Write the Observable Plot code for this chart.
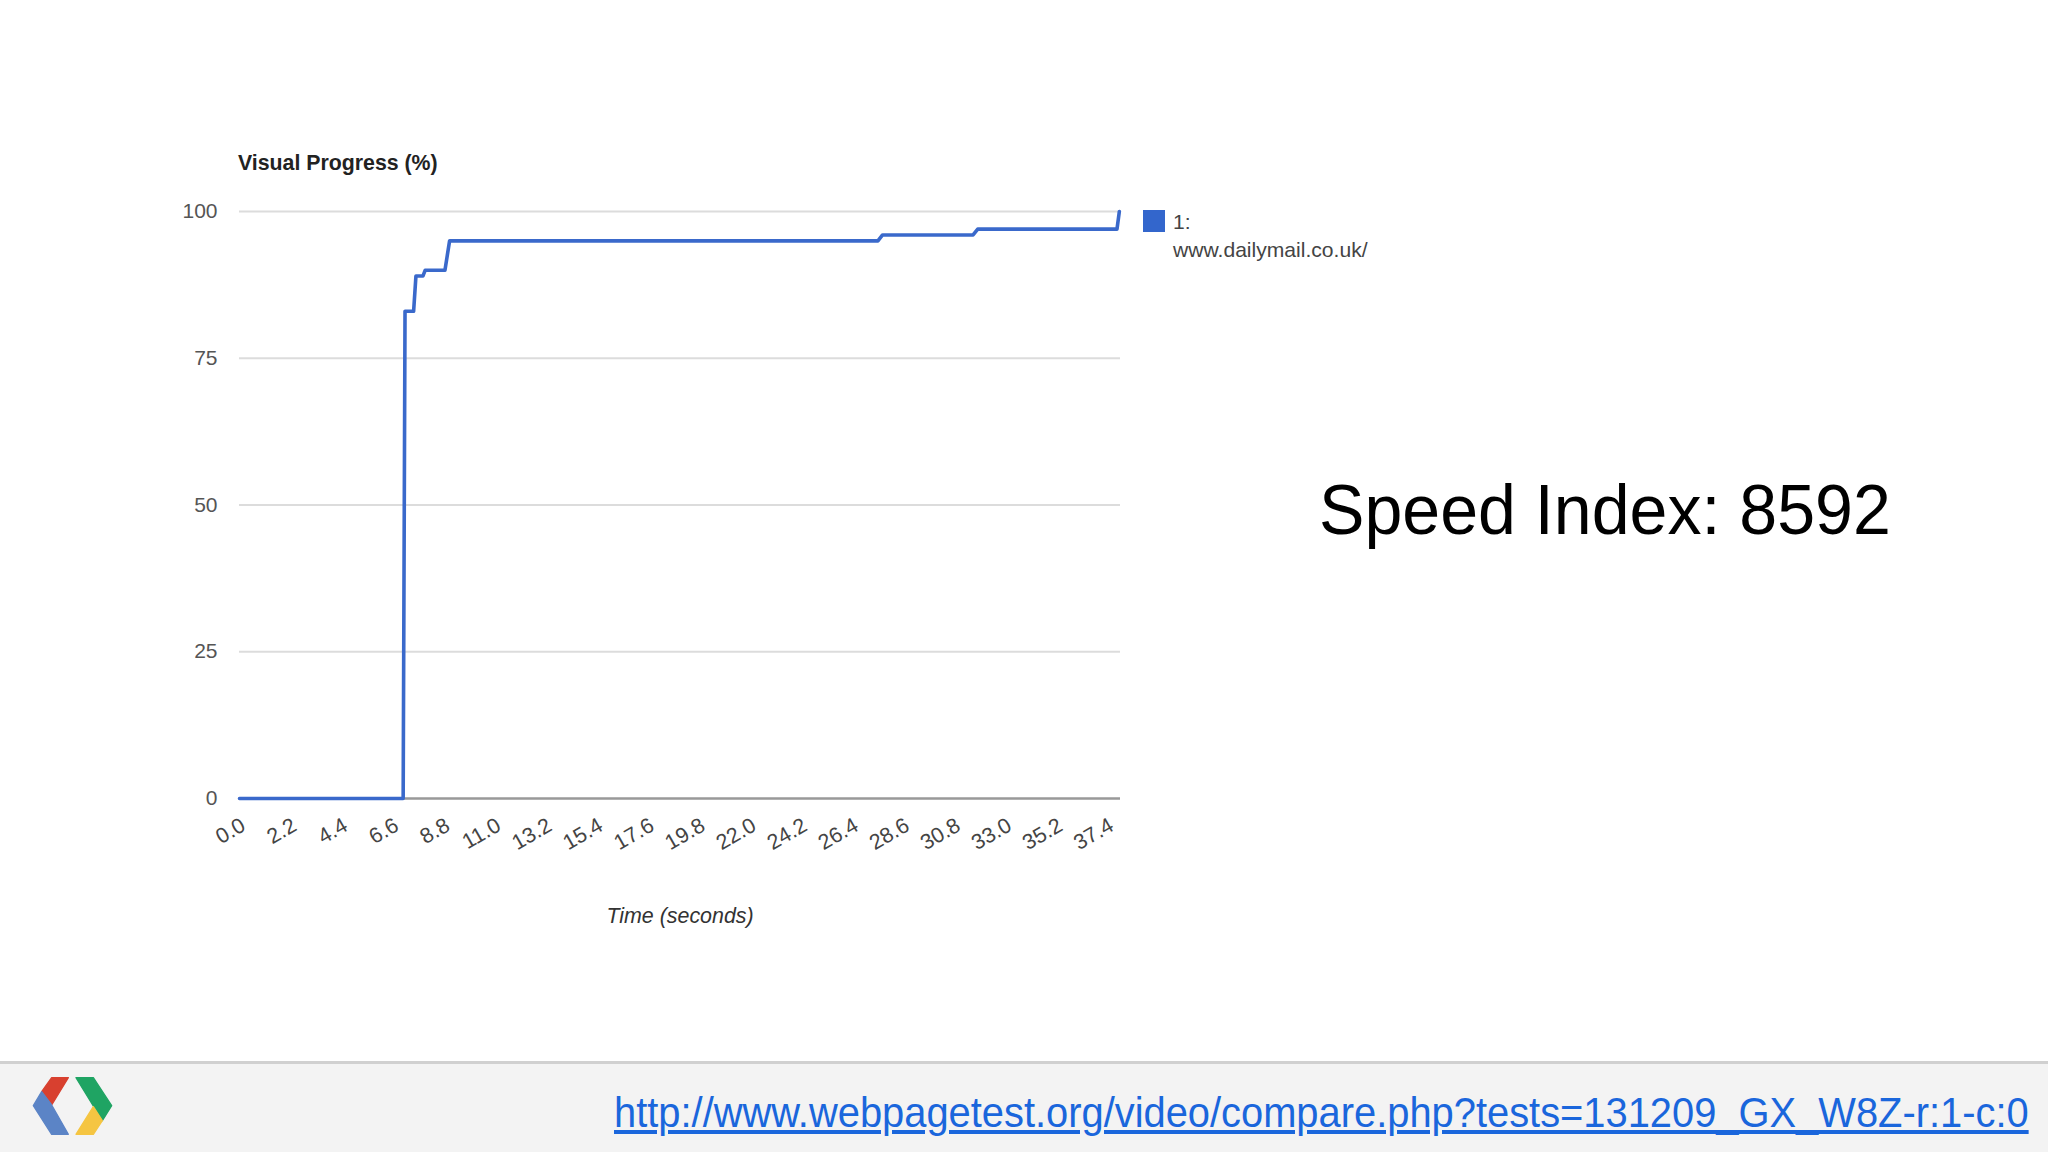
<!DOCTYPE html>
<html>
<head>
<meta charset="utf-8">
<script src="https://cdn.jsdelivr.net/npm/d3@7"></script>
<script src="https://cdn.jsdelivr.net/npm/@observablehq/plot@0.6"></script>
<style>
html,body{margin:0;padding:0;background:#fff;width:2048px;height:1152px;overflow:hidden;font-family:"Liberation Sans",Arial,sans-serif}
#chart{position:absolute;left:0;top:0}
.abs{position:absolute;white-space:nowrap}
#ytitle{left:238px;top:150px;font-size:21.3px;font-weight:bold;color:#222;line-height:26px}
#swatch{left:1143px;top:210px;width:22px;height:22px;background:#3366cc}
#legend{left:1173px;top:208px;font-size:21.1px;line-height:28px;color:#444}
#speed{left:1319px;top:465px;font-size:70px;line-height:90px;color:#000;transform:scaleX(.973);transform-origin:left center}
#footer{left:0;top:1061px;width:2048px;height:91px;background:#f3f3f3;border-top:3px solid #d0d0d0;box-sizing:border-box}
#link{left:614px;top:1087px;font-size:42px;line-height:52px;color:#1a66dc;text-decoration:underline;transform:scaleX(.949);transform-origin:left center}
#logo{left:0;top:1040px}
</style>
</head>
<body>
<div id="chart"></div>
<div class="abs" id="ytitle">Visual Progress (%)</div>
<div class="abs" id="swatch"></div>
<div class="abs" id="legend">1:<br>www.dailymail.co.uk/</div>
<div class="abs" id="speed">Speed Index: 8592</div>
<div class="abs" id="footer"></div>
<div class="abs" id="link">http://www.webpagetest.org/video/compare.php?tests=131209_GX_W8Z-r:1-c:0</div>
<svg class="abs" id="logo" width="200" height="112" viewBox="0 0 600 336">
  <path d="M205 113H155L125 155L155 195Z" fill="#d8402f" stroke="#d8402f" stroke-width="4" stroke-linejoin="round"/>
  <path d="M125 155L100 197L155 283H205L155 195Z" fill="#5b84c6" stroke="#5b84c6" stroke-width="4" stroke-linejoin="round"/>
  <path d="M228 113H280L335 197L307 242Z" fill="#1fa463" stroke="#1fa463" stroke-width="4" stroke-linejoin="round"/>
  <path d="M280 200L307 242L280 283H228Z" fill="#f5c542" stroke="#f5c542" stroke-width="4" stroke-linejoin="round"/>
</svg>
<script>
const times =    [0, 7.05, 7.13, 7.5, 7.6, 7.9, 8.0, 8.85, 9.05, 27.5, 27.7, 31.6, 31.8, 37.8, 37.9];
const progress = [0, 0,    83,   83,  89,  89,  90,  90,   95,   95,   96,   96,   97,   97,   100];
const xTicks = [0,2.2,4.4,6.6,8.8,11,13.2,15.4,17.6,19.8,22,24.2,26.4,28.6,30.8,33,35.2,37.4];
const yTicks = [0,25,50,75,100];
const series = times.map((t,i)=>({t, p:progress[i]}));

const chart = Plot.plot({
  width:1200, height:960,
  marginLeft:239, marginRight:80, marginTop:211, marginBottom:162,
  style:{fontFamily:'"Liberation Sans",Arial,sans-serif',background:"transparent"},
  x:{domain:[0,37.95],label:null},
  y:{domain:[0,100],label:null},
  marks:[
    Plot.ruleY(yTicks.filter(d=>d>0),{stroke:"#dcdcdc",strokeWidth:2}),
    Plot.ruleY([0],{stroke:"#999",strokeWidth:2.5}),
    Plot.axisY({ticks:yTicks,tickSize:0,tickPadding:22,fontSize:21,color:"#555",label:null}),
    Plot.axisX({ticks:xTicks,tickSize:0,tickPadding:25,dx:4,tickRotate:-30,fontSize:21.5,color:"#444",label:null,tickFormat:d=>d.toFixed(1)}),
    Plot.line(series,{x:"t",y:"p",stroke:"#3a69cb",strokeWidth:3.6,curve:"linear"}),
    Plot.text(["Time (seconds)"],{frameAnchor:"bottom",dy:124,fontSize:21.4,fontStyle:"italic",fill:"#333"})
  ]
});
document.getElementById("chart").appendChild(chart);
</script>
</body>
</html>
